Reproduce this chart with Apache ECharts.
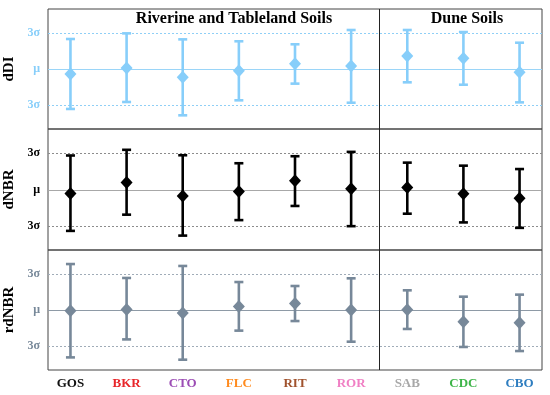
<!DOCTYPE html>
<html><head><meta charset="utf-8">
<script src="https://cdn.jsdelivr.net/npm/echarts@6/dist/echarts.min.js"></script>
<style>html,body{margin:0;padding:0;background:#fff}#c{width:550px;height:395px}</style>
</head><body><div id="c"></div>
<script>
const categories = ['GOS','BKR','CTO','FLC','RIT','ROR','SAB','CDC','CBO'];
const groupTitles = ['Riverine and Tableland Soils','Dune Soils'];
const panelNames = ['dDI','dNBR','rdNBR'];
const yTickValues = [-3, 0, 3];
const yTickLabels = ['3σ','μ','3σ'];
const groupBoundary = 5.5; // between ROR and SAB

const dDI_mean = [-0.42, 0.08, -0.69, -0.14, 0.44, 0.25, 1.08, 0.89, -0.28];
const dDI_low  = [-3.33, -2.75, -3.86, -2.61, -1.22, -2.81, -1.11, -1.31, -2.78];
const dDI_high = [2.50, 2.97, 2.47, 2.31, 2.06, 3.25, 3.25, 3.08, 2.19];

const dNBR_mean = [-0.33, 0.58, -0.53, -0.17, 0.72, 0.06, 0.17, -0.36, -0.72];
const dNBR_low  = [-3.42, -2.08, -3.81, -2.53, -1.36, -3.03, -2.00, -2.72, -3.17];
const dNBR_high = [2.81, 3.28, 2.83, 2.17, 2.75, 3.11, 2.22, 1.97, 1.69];

const rdNBR_mean = [-0.06, 0.05, -0.25, 0.30, 0.55, 0.00, 0.03, -0.97, -1.06];
const rdNBR_low  = [-3.95, -2.45, -4.14, -1.72, -0.92, -2.64, -1.58, -3.08, -3.42];
const rdNBR_high = [3.83, 2.67, 3.67, 2.33, 2.00, 2.64, 1.64, 1.11, 1.28];

// styles
const catColors = ['#111111','#e8262a','#9c4db5','#ff8b1f','#a0522d','#f07fc4','#a8a8a8','#3fb54a','#2f7ec0'];
const panelColors = ['#87cefa','#000000','#778899'];
const gridSolid = ['#9ad5f8','#a8a8a8','#8e9aa6'];
const gridDot = ['#8fcff6','#8c8c8c','#a0acb8'];
const serif = '"Liberation Serif", "Times New Roman", serif';

const panels = [
  {mean: dDI_mean, low: dDI_low, high: dDI_high},
  {mean: dNBR_mean, low: dNBR_low, high: dNBR_high},
  {mean: rdNBR_mean, low: rdNBR_low, high: rdNBR_high}
];
const tops = [9, 129, 250];
const heights = [120, 121, 120];

const rich = {};
categories.forEach((c, i) => { rich['c' + i] = {color: catColors[i], fontFamily: serif, fontWeight: 'bold', fontSize: 13}; });

function errRender(color) {
  return function (params, api) {
    const x = api.value(0), lo = api.value(1), hi = api.value(2);
    const pLo = api.coord([x, lo]), pHi = api.coord([x, hi]);
    const hw = 4.5;
    const style = {stroke: color, lineWidth: 2.6, fill: null};
    return {type: 'group', children: [
      {type: 'line', shape: {x1: pLo[0], y1: pLo[1], x2: pHi[0], y2: pHi[1]}, style: style},
      {type: 'line', shape: {x1: pLo[0] - hw, y1: pLo[1], x2: pLo[0] + hw, y2: pLo[1]}, style: style},
      {type: 'line', shape: {x1: pHi[0] - hw, y1: pHi[1], x2: pHi[0] + hw, y2: pHi[1]}, style: style}
    ]};
  };
}
function hlineRender(k) {
  return function (params, api) {
    const cs = params.coordSys;
    const v = api.value(1);
    const y = Math.round(api.coord([0, v])[1]) + 0.5;
    const solid = v === 0;
    return {type: 'line', silent: true,
      shape: {x1: cs.x, y1: y, x2: cs.x + cs.width, y2: y},
      style: {stroke: solid ? gridSolid[k] : gridDot[k], lineWidth: 1, lineDash: solid ? null : [2, 2], fill: null}};
  };
}
function vlineRender(params, api) {
  const cs = params.coordSys;
  const x = Math.round(api.coord([api.value(0), 0])[0]) + 0.5;
  return {type: 'line', silent: true,
    shape: {x1: x, y1: cs.y, x2: x, y2: cs.y + cs.height},
    style: {stroke: '#222', lineWidth: 1, fill: null}};
}

const grid = [], xAxis = [], yAxis = [], series = [];
const catIdx = categories.map((c, i) => i);
panels.forEach((p, k) => {
  grid.push({left: 48, width: 494, top: tops[k], height: heights[k], show: true, borderColor: '#444', borderWidth: 1,
    backgroundColor: 'transparent', containLabel: false, outerBoundsMode: 'none'});
  xAxis.push({
    type: 'value', gridIndex: k, min: -0.4, max: 8.4,
    axisLine: {show: false}, splitLine: {show: false},
    axisTick: {show: k === 2, customValues: catIdx, length: 3, lineStyle: {color: '#444'}},
    axisLabel: {show: k === 2, customValues: catIdx, margin: 7,
      formatter: v => { const i = Math.round(v); return '{c' + i + '|' + categories[i] + '}'; }, rich: rich}
  });
  yAxis.push({
    type: 'value', gridIndex: k, min: -5, max: 5,
    axisLine: {show: false}, axisTick: {show: false}, splitLine: {show: false},
    axisLabel: {customValues: yTickValues, margin: 8, color: panelColors[k], fontFamily: serif, fontWeight: 'bold', fontSize: 12,
      formatter: v => yTickLabels[yTickValues.indexOf(Math.round(v))]},
    name: panelNames[k], nameLocation: 'middle', nameGap: 26, nameRotate: 90,
    nameTextStyle: {fontFamily: serif, fontWeight: 'bold', fontSize: 15, color: '#000'}
  });
  series.push({
    type: 'custom', xAxisIndex: k, yAxisIndex: k, z: 1, silent: true,
    renderItem: hlineRender(k), encode: {x: 0, y: 1},
    data: yTickValues.map(v => [0, v])
  });
  series.push({
    type: 'custom', xAxisIndex: k, yAxisIndex: k, z: 2, silent: true,
    renderItem: vlineRender, encode: {x: 0, y: 1},
    data: [[groupBoundary, 0]]
  });
  series.push({
    type: 'custom', xAxisIndex: k, yAxisIndex: k, z: 3,
    renderItem: errRender(panelColors[k]),
    encode: {x: 0, y: [1, 2]},
    data: categories.map((c, i) => [i, p.low[i], p.high[i]])
  });
  series.push({
    type: 'scatter', xAxisIndex: k, yAxisIndex: k, z: 4,
    symbol: 'diamond', symbolSize: [12, 13],
    itemStyle: {color: panelColors[k], opacity: 1},
    data: categories.map((c, i) => [i, p.mean[i]])
  });
});

const chart = echarts.init(document.getElementById('c'), null, {renderer: 'canvas'});
chart.setOption({
  animation: false,
  backgroundColor: '#fff',
  title: [
    {text: groupTitles[0], left: 229, top: 6, textAlign: 'center', textStyle: {fontFamily: serif, fontWeight: 'bold', fontSize: 16, color: '#000'}},
    {text: groupTitles[1], left: 462, top: 6, textAlign: 'center', textStyle: {fontFamily: serif, fontWeight: 'bold', fontSize: 16, color: '#000'}}
  ],
  grid: grid, xAxis: xAxis, yAxis: yAxis, series: series
});
</script></body></html>
